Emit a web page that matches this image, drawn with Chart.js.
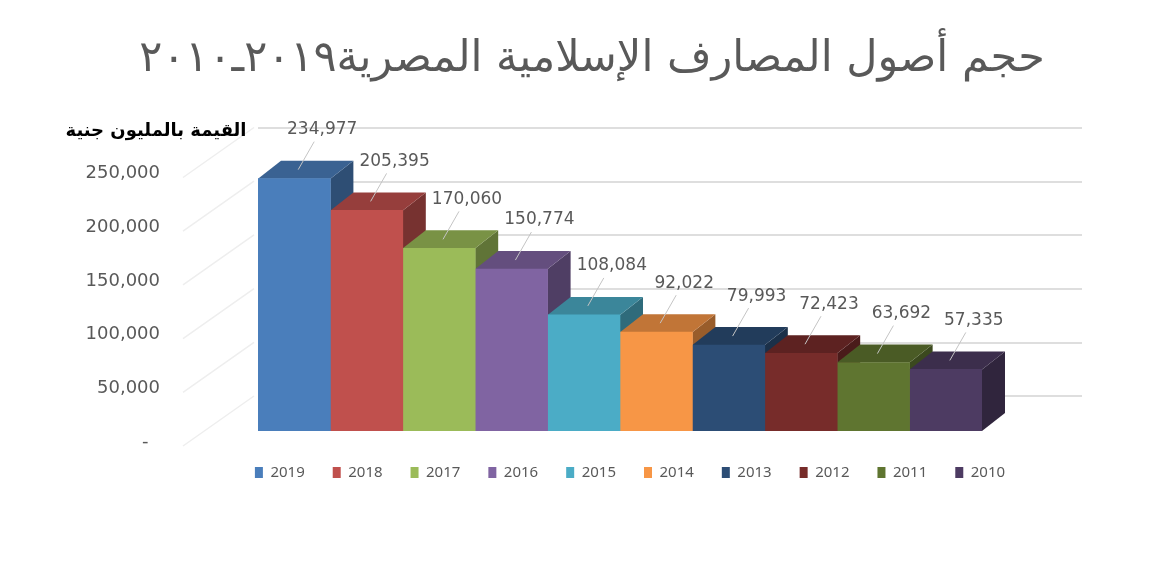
<!DOCTYPE html>
<html>
<head>
<meta charset="utf-8">
<script src="https://cdn.jsdelivr.net/npm/chart.js@4.4.1/dist/chart.umd.min.js"></script>
<style>
  html, body { margin: 0; padding: 0; background: #ffffff; }
  #wrap { width: 1160px; height: 562px; position: relative; }
</style>
</head>
<body>
<div id="wrap"><canvas id="chart"></canvas></div>
<script>
// Islamic banks' assets in Egypt, million EGP
const years  = ['2019', '2018', '2017', '2016', '2015', '2014', '2013', '2012', '2011', '2010'];
const assets = [234977, 205395, 170060, 150774, 108084, 92022, 79993, 72423, 63692, 57335];
const yTicks = [0, 50000, 100000, 150000, 200000, 250000, 300000];

const chartTitle = 'حجم أصول المصارف الإسلامية المصرية٢٠١٩ـ٢٠١٠';
const axisTitle  = 'القيمة بالمليون جنية';

const frontColors = ['#4a7ebb', '#c0504d', '#9bbb59', '#8064a2', '#4bacc6',
                     '#f79646', '#2c4d75', '#772c2a', '#5f7530', '#4d3b62'];

// depth of the pseudo-3D boxes (pixels) and drop of the back wall grid
const DX = 23, DY = -18, WALL_DROP = 19;

function shade(hex, f) {
  const n = parseInt(hex.slice(1), 16);
  const r = Math.round(((n >> 16) & 255) * f);
  const g = Math.round(((n >> 8) & 255) * f);
  const b = Math.round((n & 255) * f);
  return `rgb(${r},${g},${b})`;
}

const numFmt = v => v.toLocaleString('en-US');

const box3d = {
  id: 'box3d',
  afterLayout(chart) {
    const ca = chart.chartArea;
    // centre the title and legend the way the sheet lays them out
    const t = chart.titleBlock;
    t.left = 0; t.right = chart.width + 24;
    const lg = chart.legend;
    lg.left = ca.left - 260; lg.right = ca.right + 280;
  },
  beforeDatasetsDraw(chart) {
    const { ctx, chartArea: ca, scales: { y } } = chart;
    ctx.save();
    // side wall lines
    ctx.strokeStyle = '#eeeeee';
    ctx.lineWidth = 1.5;
    yTicks.slice(0, -1).forEach(v => {
      const p = y.getPixelForValue(v) + 11;
      ctx.beginPath();
      ctx.moveTo(ca.left - 75, p + 4);
      ctx.lineTo(ca.left - 4, p - 46);
      ctx.stroke();
    });
    // back wall grid
    ctx.strokeStyle = '#dedede';
    ctx.lineWidth = 2;
    yTicks.slice(1).forEach(v => {
      const p = Math.round(y.getPixelForValue(v) + WALL_DROP);
      ctx.beginPath();
      ctx.moveTo(ca.left, p);
      ctx.lineTo(ca.right + 100, p);
      ctx.stroke();
    });
    // top and side faces of each box
    chart.data.datasets.forEach((ds, i) => {
      const meta = chart.getDatasetMeta(i);
      if (meta.hidden) return;
      const bar = meta.data[0];
      const { x, y: top, base, width } = bar.getProps(['x', 'y', 'base', 'width'], true);
      const l = x - width / 2, r = x + width / 2;
      ctx.fillStyle = shade(frontColors[i], 0.62);
      ctx.beginPath();
      ctx.moveTo(r, top); ctx.lineTo(r + DX, top + DY);
      ctx.lineTo(r + DX, base + DY); ctx.lineTo(r, base);
      ctx.closePath(); ctx.fill();
      ctx.fillStyle = shade(frontColors[i], 0.78);
      ctx.beginPath();
      ctx.moveTo(l, top); ctx.lineTo(l + DX, top + DY);
      ctx.lineTo(r + DX, top + DY); ctx.lineTo(r, top);
      ctx.closePath(); ctx.fill();
    });
    ctx.restore();
  },
  afterDatasetsDraw(chart) {
    const { ctx } = chart;
    ctx.save();
    ctx.font = '17px "DejaVu Sans"';
    ctx.textAlign = 'center';
    ctx.textBaseline = 'middle';
    chart.data.datasets.forEach((ds, i) => {
      const meta = chart.getDatasetMeta(i);
      if (meta.hidden) return;
      const bar = meta.data[0];
      const { x, y: top } = bar.getProps(['x', 'y'], true);
      const lx = x + 28, ly = top - 49;
      ctx.strokeStyle = '#c4c4c4';
      ctx.lineWidth = 1;
      ctx.beginPath();
      ctx.moveTo(lx - 8, ly + 12);
      ctx.lineTo(x + 4, top + DY / 2);
      ctx.stroke();
      ctx.fillStyle = '#595959';
      ctx.fillText(numFmt(ds.data[0]), lx, ly);
    });
    ctx.restore();
  },
  afterDraw(chart) {
    const { ctx, chartArea: ca } = chart;
    ctx.save();
    ctx.font = 'bold 18px "DejaVu Sans"';
    ctx.fillStyle = '#000000';
    ctx.textAlign = 'center';
    ctx.textBaseline = 'middle';
    ctx.fillText(axisTitle, ca.left - 102, ca.top + 23);
    ctx.restore();
  }
};

new Chart(document.getElementById('chart'), {
  type: 'bar',
  data: {
    labels: [''],
    datasets: years.map((yr, i) => ({
      label: yr,
      data: [assets[i]],
      backgroundColor: frontColors[i],
      borderWidth: 0,
      categoryPercentage: 1,
      barPercentage: 1
    }))
  },
  options: {
    responsive: true,
    maintainAspectRatio: false,
    animation: false,
    devicePixelRatio: 1,
    layout: { padding: { left: 0, right: 178, top: 0, bottom: 72 } },
    scales: {
      x: {
        display: true,
        grid: { display: false, drawTicks: false },
        border: { display: false },
        ticks: { display: false },
        afterFit: s => { s.height = 6; }
      },
      y: {
        min: 0,
        max: 300000,
        afterBuildTicks: s => { s.ticks = yTicks.map(v => ({ value: v })); },
        afterFit: s => { s.width = 258; },
        grid: { display: false, drawTicks: false },
        border: { display: false },
        ticks: {
          padding: 98,
          labelOffset: 11,
          color: '#595959',
          font: { family: 'DejaVu Sans', size: 18 },
          callback: v => v === 0 ? '-  ' : (v === 300000 ? '' : numFmt(v))
        }
      }
    },
    plugins: {
      title: {
        display: true,
        text: chartTitle,
        color: '#595959',
        font: { family: 'DejaVu Sans', size: 43, weight: 'normal' },
        padding: { top: 30, bottom: 23 }
      },
      legend: {
        position: 'bottom',
        labels: {
          boxWidth: 8,
          boxHeight: 11,
          padding: 28,
          color: '#595959',
          font: { family: 'Noto Sans', size: 15 }
        }
      },
      tooltip: { enabled: false }
    }
  },
  plugins: [box3d]
});
</script>
</body>
</html>
